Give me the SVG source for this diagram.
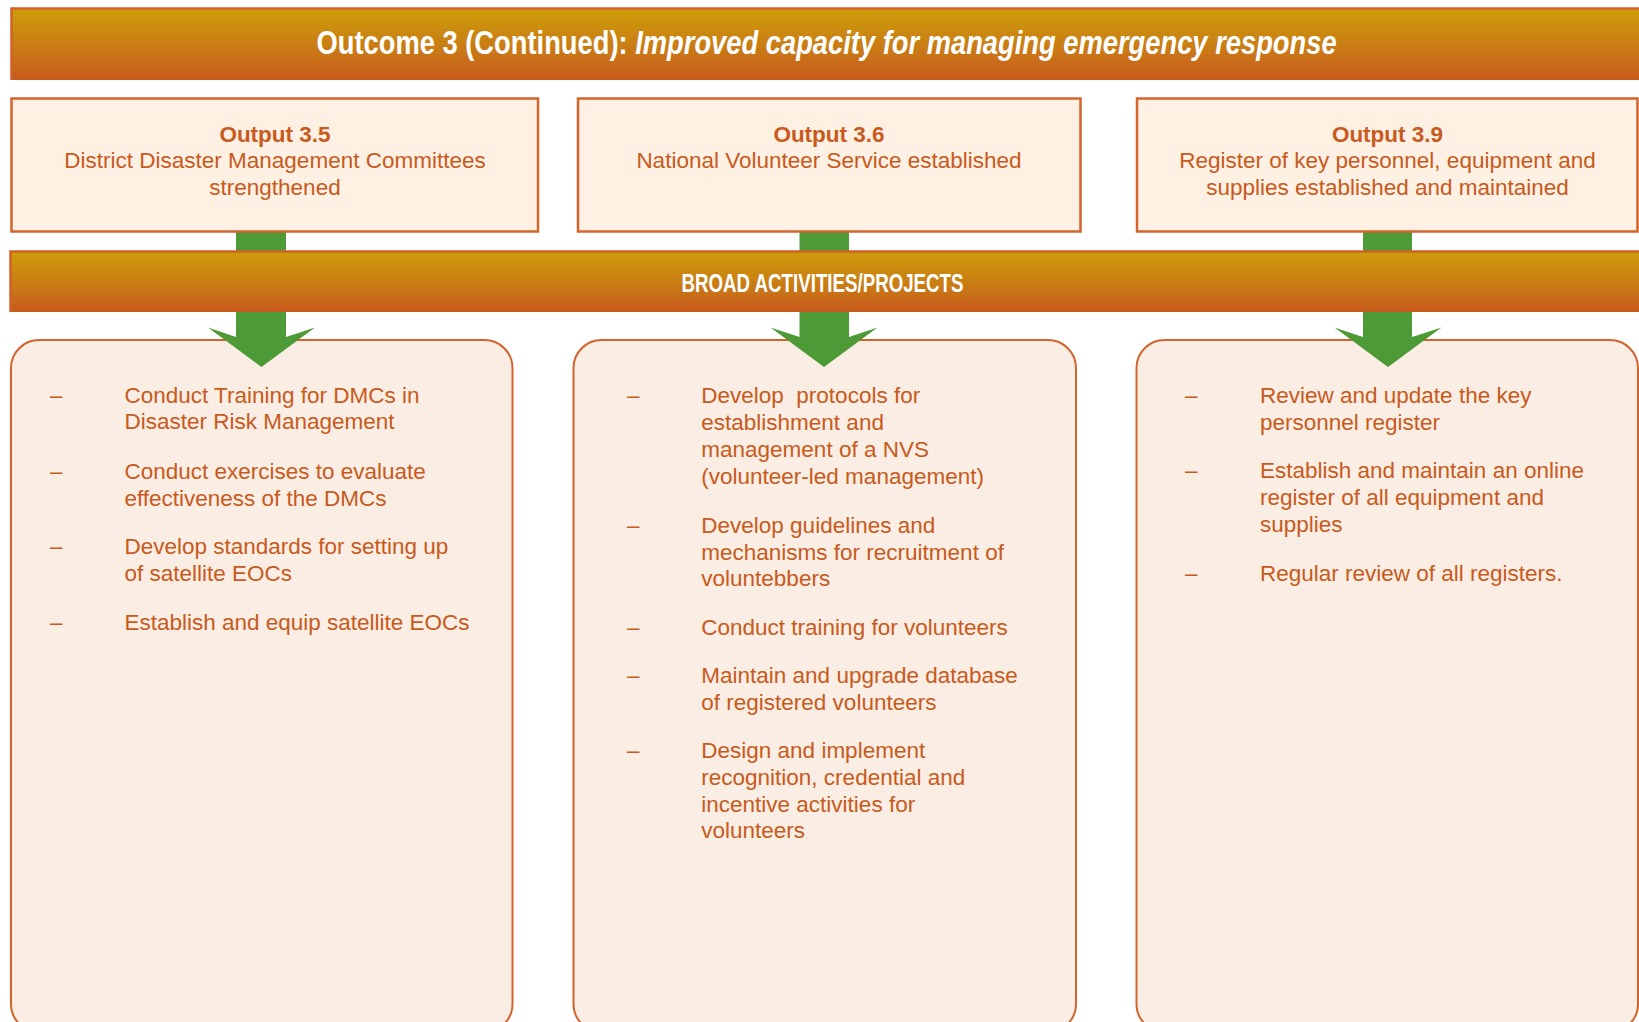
<svg xmlns="http://www.w3.org/2000/svg" width="1639" height="1022" viewBox="0 0 1639 1022">
<defs>
<linearGradient id="band" x1="0" y1="0" x2="0" y2="1">
<stop offset="0" stop-color="#CD9D08"/>
<stop offset="0.5" stop-color="#CA7F14"/>
<stop offset="1" stop-color="#C85A1D"/>
</linearGradient>
<style>
.band{fill:url(#band);}
.bandedge{fill:none;stroke:#D0612A;stroke-width:2.5;}
.hdr{fill:#FEF0E3;stroke:#D2642C;stroke-width:2.5;}
.act{fill:#FAEDE3;stroke:#D2642C;stroke-width:2;}
.arrow{fill:#4D9A37;}
text{font-family:"Liberation Sans",Arial,sans-serif;fill:#C85A20;}
.t{font-size:22.5px;}
.b{font-size:22.5px;font-weight:bold;}
.c{text-anchor:middle;}
.title{font-size:34px;font-weight:bold;fill:#FFFFFF;white-space:pre;}
.sub{font-size:26px;font-weight:bold;fill:#FFFFFF;}
.li{font-size:22.5px;white-space:pre;}
</style>
</defs>

<g id="activity-box-1"><rect class="act" x="11" y="340" width="501.5" height="692" rx="28" ry="28"/></g>
<g id="activity-box-2"><rect class="act" x="573.5" y="340" width="502.5" height="692" rx="28" ry="28"/></g>
<g id="activity-box-3"><rect class="act" x="1136.5" y="340" width="501.5" height="692" rx="28" ry="28"/></g>

<g id="connectors">
<path class="arrow" d="M236,231 L286,231 L286,337 L315,327.5 L261.5,367 L208,327.5 L236,337 Z"/>
<path class="arrow" d="M799.5,231 L849,231 L849,337 L877.5,327.5 L824,367 L770.5,327.5 L799.5,337 Z"/>
<path class="arrow" d="M1363,231 L1412,231 L1412,337 L1441.5,327.5 L1388,367 L1334.5,327.5 L1363,337 Z"/>
</g>

<g id="outcome-banner">
<rect class="band" x="11" y="8" width="1630" height="72"/>
<path class="bandedge" d="M11.5,80 L11.5,8.5 L1641,8.5"/>
<text class="title" transform="translate(316.5,53.5) scale(0.804,1)">Outcome 3 (Continued): <tspan font-style="italic">Improved capacity for managing emergency response</tspan></text>
</g>

<g id="output-3-5">
<rect class="hdr" x="11.5" y="98.5" width="526.5" height="133"/>
<text class="b c" x="275" y="141.7">Output 3.5</text>
<text class="t c" x="275" y="168.3">District Disaster Management Committees</text>
<text class="t c" x="275" y="195">strengthened</text>
</g>
<g id="output-3-6">
<rect class="hdr" x="578" y="98.5" width="502.5" height="133"/>
<text class="b c" x="829" y="141.7">Output 3.6</text>
<text class="t c" x="829" y="168.3">National Volunteer Service established</text>
</g>
<g id="output-3-9">
<rect class="hdr" x="1137" y="98.5" width="500.5" height="133"/>
<text class="b c" x="1387.5" y="141.7">Output 3.9</text>
<text class="t c" x="1387.5" y="168.3">Register of key personnel, equipment and</text>
<text class="t c" x="1387.5" y="195">supplies established and maintained</text>
</g>

<g id="activities-banner">
<rect class="band" x="10" y="251" width="1631" height="61"/>
<path class="bandedge" d="M10.5,312 L10.5,251.5 L1641,251.5"/>
<text class="sub" x="681.5" y="291.7" textLength="282" lengthAdjust="spacingAndGlyphs">BROAD ACTIVITIES/PROJECTS</text>
</g>

<g id="activities-3-5">
<text class="li" x="50" y="402.7">–</text>
<text class="li" x="124.4" y="402.7">Conduct Training for DMCs in</text>
<text class="li" x="124.4" y="429.3">Disaster Risk Management</text>
<text class="li" x="50" y="479">–</text>
<text class="li" x="124.4" y="479">Conduct exercises to evaluate</text>
<text class="li" x="124.4" y="505.7">effectiveness of the DMCs</text>
<text class="li" x="50" y="554">–</text>
<text class="li" x="124.4" y="554">Develop standards for setting up</text>
<text class="li" x="124.4" y="580.7">of satellite EOCs</text>
<text class="li" x="50" y="630">–</text>
<text class="li" x="124.4" y="630">Establish and equip satellite EOCs</text>
</g>

<g id="activities-3-6">
<text class="li" x="627" y="403.3">–</text>
<text class="li" x="701.3" y="403.3">Develop  protocols for</text>
<text class="li" x="701.3" y="430">establishment and</text>
<text class="li" x="701.3" y="456.7">management of a NVS</text>
<text class="li" x="701.3" y="483.5">(volunteer-led management)</text>
<text class="li" x="627" y="532.7">–</text>
<text class="li" x="701.3" y="532.7">Develop guidelines and</text>
<text class="li" x="701.3" y="559.5">mechanisms for recruitment of</text>
<text class="li" x="701.3" y="586.3">voluntebbers</text>
<text class="li" x="627" y="635">–</text>
<text class="li" x="701.3" y="635">Conduct training for volunteers</text>
<text class="li" x="627" y="683.3">–</text>
<text class="li" x="701.3" y="683.3">Maintain and upgrade database</text>
<text class="li" x="701.3" y="710">of registered volunteers</text>
<text class="li" x="627" y="758.3">–</text>
<text class="li" x="701.3" y="758.3">Design and implement</text>
<text class="li" x="701.3" y="785">recognition, credential and</text>
<text class="li" x="701.3" y="811.7">incentive activities for</text>
<text class="li" x="701.3" y="838.4">volunteers</text>
</g>

<g id="activities-3-9">
<text class="li" x="1185" y="402.7">–</text>
<text class="li" x="1260" y="402.7">Review and update the key</text>
<text class="li" x="1260" y="429.5">personnel register</text>
<text class="li" x="1185" y="478.3">–</text>
<text class="li" x="1260" y="478.3">Establish and maintain an online</text>
<text class="li" x="1260" y="505">register of all equipment and</text>
<text class="li" x="1260" y="531.7">supplies</text>
<text class="li" x="1185" y="580.7">–</text>
<text class="li" x="1260" y="580.7">Regular review of all registers.</text>
</g>
</svg>
